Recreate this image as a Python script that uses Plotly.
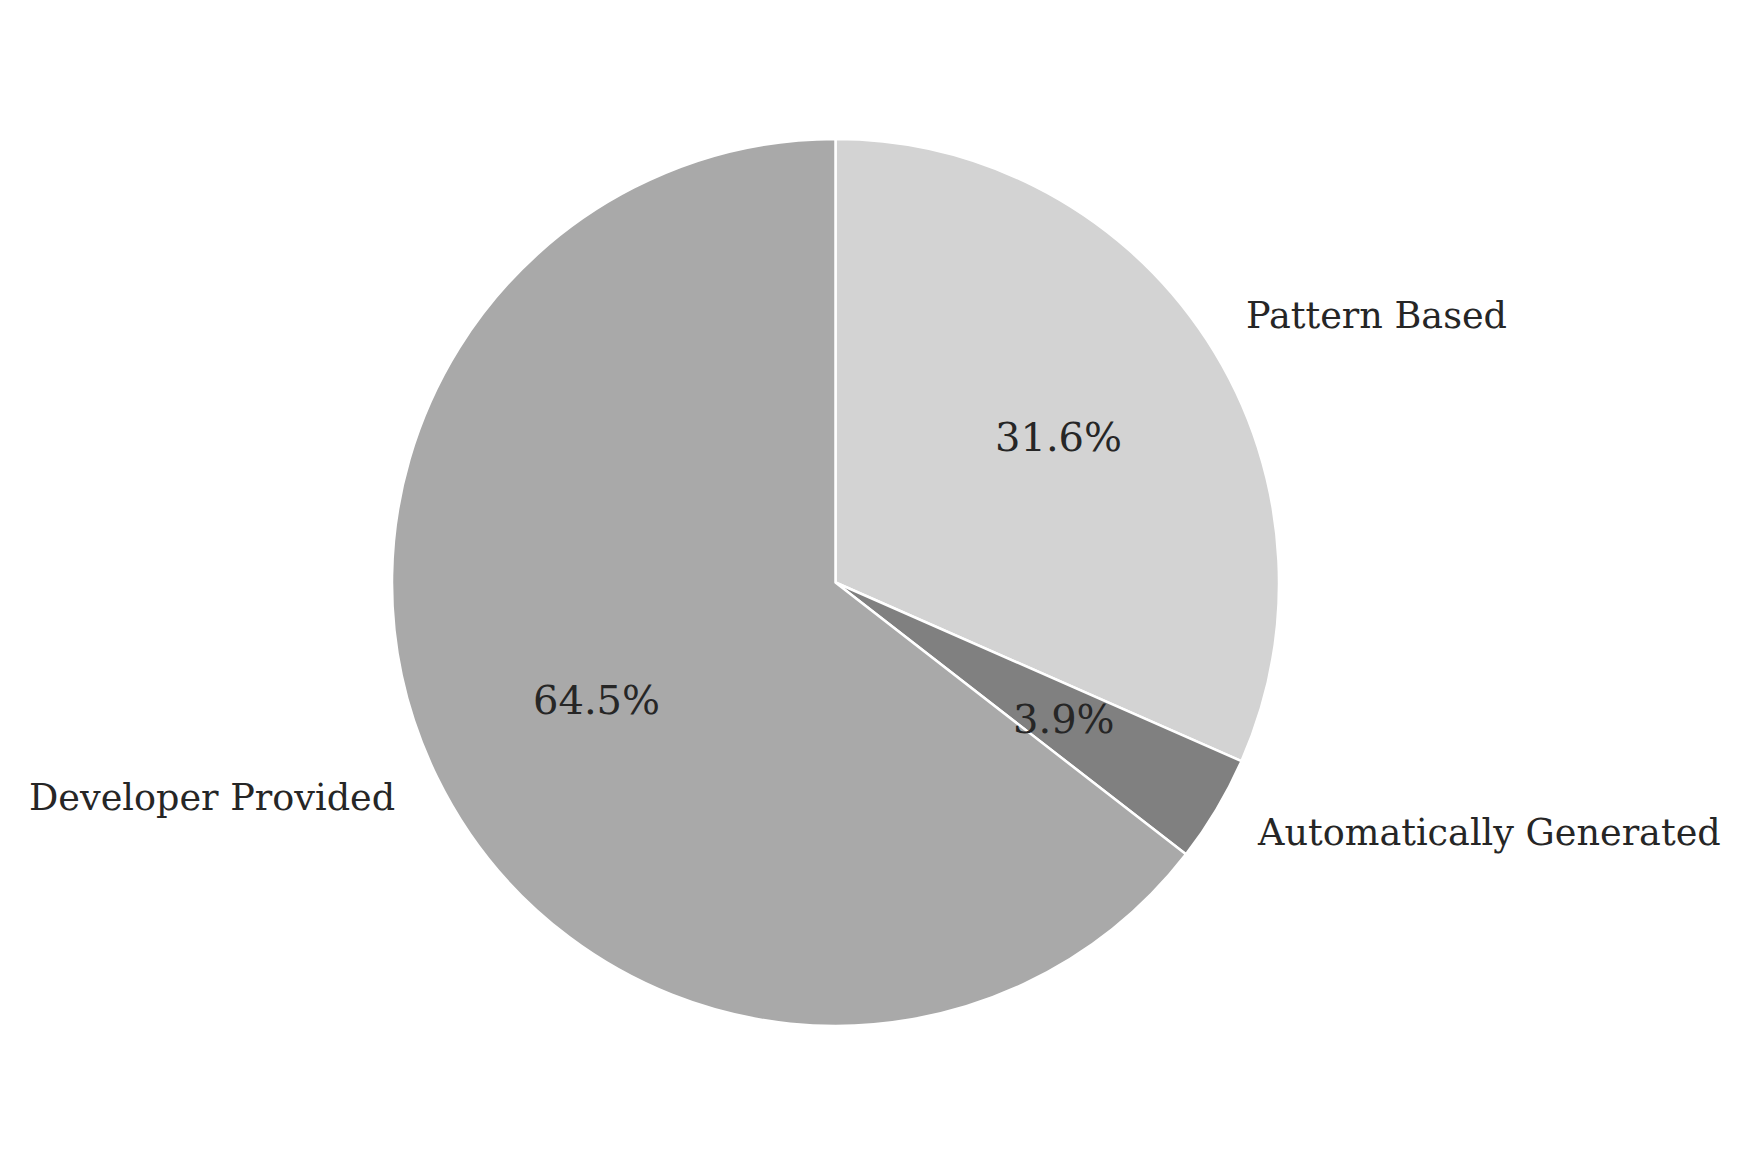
import math
import plotly.graph_objects as go

# data
labels = ["Developer Provided", "Automatically Generated", "Pattern Based"]
shares = [64.5, 3.9, 31.6]
colors = ["#a9a9a9", "#808080", "#d3d3d3"]

# page body has an 8px margin, so the figure is 16px smaller than the window
W, H = 1732, 1152
cx, cy, R = 827.5, 574.5, 443.5

fig = go.Figure()
# wedges run counterclockwise from 12 o'clock in the reference:
# draw them clockwise in reverse order to get the same layout
fig.add_trace(go.Pie(
    labels=labels[::-1],
    values=shares[::-1],
    sort=False,
    direction="clockwise",
    rotation=0,
    textinfo="none",
    hoverinfo="label+percent",
    marker=dict(colors=colors[::-1], line=dict(color="white", width=2.5)),
    domain=dict(x=[0, 1], y=[0, 1]),
    showlegend=False,
))

# labels at 1.1 R and percentages at 0.6 R, placed at each wedge's mid angle
total = sum(shares)
start = 90.0
for lab, v in zip(labels, shares):
    span = 360.0 * v / total
    mid = math.radians(start + span / 2)
    start += span
    c, s = math.cos(mid), math.sin(mid)
    fig.add_annotation(
        x=0.5 + 0.5 * 1.1 * c, y=0.5 + 0.5 * 1.1 * s,
        xref="paper", yref="paper", text=lab, showarrow=False,
        xanchor="left" if c > 0 else "right", yanchor="middle",
        font=dict(size=36.6, color="#262626"),
    )
    fig.add_annotation(
        x=0.5 + 0.5 * 0.6 * c, y=0.5 + 0.5 * 0.6 * s,
        xref="paper", yref="paper", text=f"{100 * v / total:.1f}%", showarrow=False,
        xanchor="center", yanchor="middle",
        font=dict(size=40, color="#262626"),
    )

fig.update_layout(
    width=W, height=H,
    margin=dict(l=cx - R, r=W - cx - R, t=cy - R, b=H - cy - R, autoexpand=False),
    paper_bgcolor="white",
    plot_bgcolor="white",
    font=dict(family="DejaVu Serif", color="#262626"),
)

fig.write_html("out.html")
